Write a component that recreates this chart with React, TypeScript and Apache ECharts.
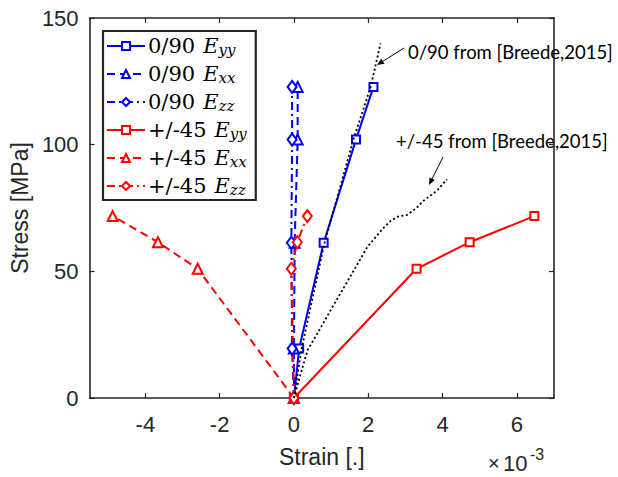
import React, { useEffect, useRef } from "react";
import * as echarts from "echarts";

// Strain values in units of 1e-3, stress in MPa
const stress090 = [0, 19.5, 61.3, 102, 122.8];
const eyy090 = [0, 0.14, 0.8, 1.67, 2.14];
const exx090 = [0, 0.0, 0.02, 0.1, 0.1];
const ezz090 = [0, -0.05, -0.07, -0.05, -0.05];

const stress45 = [0, 51, 61.5, 71.8];
const eyy45 = [0, 3.3, 4.73, 6.47];
const exx45 = [0, -2.59, -3.66, -4.88];
const ezz45 = [0, -0.07, 0.09, 0.36];

const breede090Strain = [0, 0.2, 0.82, 1.6, 2.07, 2.33];
const breede090Stress = [0, 19, 61, 102, 123, 140];
const breede45Strain = [0, 0.15, 0.37, 0.73, 1.0, 1.36, 1.98, 2.4, 2.61, 2.8, 3.05, 3.3, 3.5, 3.86, 4.12];
const breede45Stress = [0, 8, 19, 28, 35, 44, 59.7, 67, 70, 71.6, 72.3, 75, 78, 82, 86.3];

const xTicks = [-4, -2, 0, 2, 4, 6];

const legendNames = [
  "0/90 Eyy",
  "0/90 Exx",
  "0/90 Ezz",
  "+/-45 Eyy",
  "+/-45 Exx",
  "+/-45 Ezz",
];

const zip = (xs: number[], ys: number[]) => xs.map((x, i) => [x, ys[i]]);

const AX = "#262626";
const SANS = "Liberation Sans";
const SERIF = "DejaVu Serif";

function arrow(x1: number, y1: number, x2: number, y2: number) {
  const dx = x2 - x1, dy = y2 - y1;
  const L = Math.hypot(dx, dy);
  const ux = dx / L, uy = dy / L;
  const hl = 7, hw = 3;
  const bx = x2 - ux * hl, by = y2 - uy * hl;
  return [
    { type: "line", shape: { x1, y1, x2: bx, y2: by }, style: { stroke: "#000", lineWidth: 1 }, z: 10 },
    {
      type: "polygon",
      shape: { points: [[x2, y2], [bx - uy * hw, by + ux * hw], [bx + uy * hw, by - ux * hw]] },
      style: { fill: "#000" },
      z: 10,
    },
  ];
}

export default function App() {
  const ref = useRef<HTMLDivElement>(null);
  useEffect(() => {
    if (!ref.current) return;
    const chart = echarts.init(ref.current, null, { renderer: "svg" });
    const mk = (
      name: string,
      xs: number[],
      ys: number[],
      color: string,
      symbol: string,
      symbolSize: any,
      type: any,
      width = 2
    ) => ({
      name,
      type: "line",
      data: zip(xs, ys),
      symbol,
      symbolSize,
      showSymbol: true,
      itemStyle: { color, borderColor: color, borderWidth: 1.6 },
      lineStyle: { color, width, type },
      xAxisIndex: 0,
      yAxisIndex: 0,
      z: 3,
    });
    const dash = [8, 5];
    const dashDot = [8, 4, 2, 4];
    const grid = { left: 88, top: 18, width: 466, height: 380 };
    const frameAxis = { lineStyle: { color: AX, width: 1.6 }, onZero: false };
    const tick = { inside: true, length: 5, lineStyle: { color: AX, width: 1.2 } };
    chart.setOption({
      animation: false,
      grid,
      xAxis: [
        {
          type: "value",
          min: -5.5,
          max: 7,
          position: "bottom",
          splitLine: { show: false },
          axisLine: frameAxis,
          axisTick: { ...tick, customValues: xTicks },
          axisLabel: {
            customValues: xTicks,
            color: AX,
            fontFamily: SANS,
            fontSize: 22,
            margin: 15,
          },
          name: "Strain [.]",
          nameLocation: "middle",
          nameGap: 47,
          nameTextStyle: { color: AX, fontFamily: SANS, fontSize: 23 },
        },
        {
          type: "value",
          min: -5.5,
          max: 7,
          position: "top",
          splitLine: { show: false },
          axisLine: frameAxis,
          axisTick: { ...tick, customValues: xTicks },
          axisLabel: { show: false },
        },
      ],
      yAxis: [
        {
          type: "value",
          min: 0,
          max: 150,
          interval: 50,
          position: "left",
          splitLine: { show: false },
          axisLine: frameAxis,
          axisTick: tick,
          axisLabel: { color: AX, fontFamily: SANS, fontSize: 22, margin: 11 },
          name: "Stress [MPa]",
          nameLocation: "middle",
          nameGap: 55,
          nameTextStyle: { color: AX, fontFamily: SANS, fontSize: 23 },
        },
        {
          type: "value",
          min: 0,
          max: 150,
          interval: 50,
          position: "right",
          splitLine: { show: false },
          axisLine: frameAxis,
          axisTick: tick,
          axisLabel: { show: false },
        },
      ],
      legend: {
        data: legendNames,
        orient: "vertical",
        left: 103,
        top: 31,
        backgroundColor: "#fff",
        borderColor: AX,
        borderWidth: 2.2,
        borderRadius: 0,
        padding: [4, 9, 3, 3],
        itemWidth: 38,
        itemHeight: 10,
        itemGap: 6,
        selectedMode: false,
        formatter: (name: string) => {
          const i = name.lastIndexOf(" E");
          const a = name.slice(0, i);
          const b = name.slice(i + 2);
          return `{n|${a}}{e|E}{s|${b}}`;
        },
        textStyle: {
          padding: [0, 0, 0, -2],
          rich: {
            n: { fontFamily: SERIF, fontSize: 21, color: "#000", lineHeight: 22, verticalAlign: "middle" },
            e: { fontFamily: SERIF, fontStyle: "italic", fontSize: 21, color: "#000", lineHeight: 22, verticalAlign: "middle", padding: [0, 0, 0, 8] },
            s: { fontFamily: SERIF, fontStyle: "italic", fontSize: 15, color: "#000", lineHeight: 22, verticalAlign: "bottom", padding: [7, 0, 0, 0] },
          },
        },
      },
      series: [
        mk("0/90 Eyy", eyy090, stress090, "#0000ff", "emptyRect", 8, "solid"),
        mk("0/90 Exx", exx090, stress090, "#0000ff", "emptyTriangle", 10, dash),
        mk("0/90 Ezz", ezz090, stress090, "#0000ff", "emptyDiamond", [9, 12], dashDot),
        mk("+/-45 Eyy", eyy45, stress45, "#ff0000", "emptyRect", 8, "solid"),
        mk("+/-45 Exx", exx45, stress45, "#ff0000", "emptyTriangle", 10, dash),
        mk("+/-45 Ezz", ezz45, stress45, "#ff0000", "emptyDiamond", [9, 12], dashDot),
        {
          name: "0/90 Breede",
          type: "line",
          data: zip(breede090Strain, breede090Stress),
          showSymbol: false,
          symbol: "none",
          lineStyle: { color: "#000", width: 1.8, type: [2, 2.5] },
          z: 4,
        },
        {
          name: "+/-45 Breede",
          type: "line",
          data: zip(breede45Strain, breede45Stress),
          showSymbol: false,
          symbol: "none",
          lineStyle: { color: "#000", width: 1.8, type: [2, 2.5] },
          z: 4,
        },
      ],
      graphic: [
        {
          type: "text",
          z: 1,
          style: { x: 408, y: 52, text: "0/90 from [Breede,2015]", font: '18.5px "Lato"', fill: "#000", verticalAlign: "middle" },
        },
        {
          type: "text",
          z: 1,
          style: { x: 396, y: 141, text: "+/-45 from [Breede,2015]", font: '18.5px "Lato"', fill: "#000", verticalAlign: "middle" },
        },
        ...arrow(404, 48, 377, 65),
        ...arrow(443, 157, 429, 185),
        {
          type: "text",
          style: { x: 488, y: 463, text: "×", font: `20px "${SANS}"`, fill: AX, verticalAlign: "middle" },
        },
        {
          type: "text",
          style: { x: 503, y: 463, text: "10", font: `22px "${SANS}"`, fill: AX, verticalAlign: "middle" },
        },
        {
          type: "text",
          style: { x: 530, y: 454, text: "-3", font: `16px "${SANS}"`, fill: AX, verticalAlign: "middle" },
        },
      ],
    });
    return () => chart.dispose();
  }, []);
  return <div ref={ref} style={{ position: "absolute", left: 0, top: 0, width: 618, height: 477 }} />;
}
